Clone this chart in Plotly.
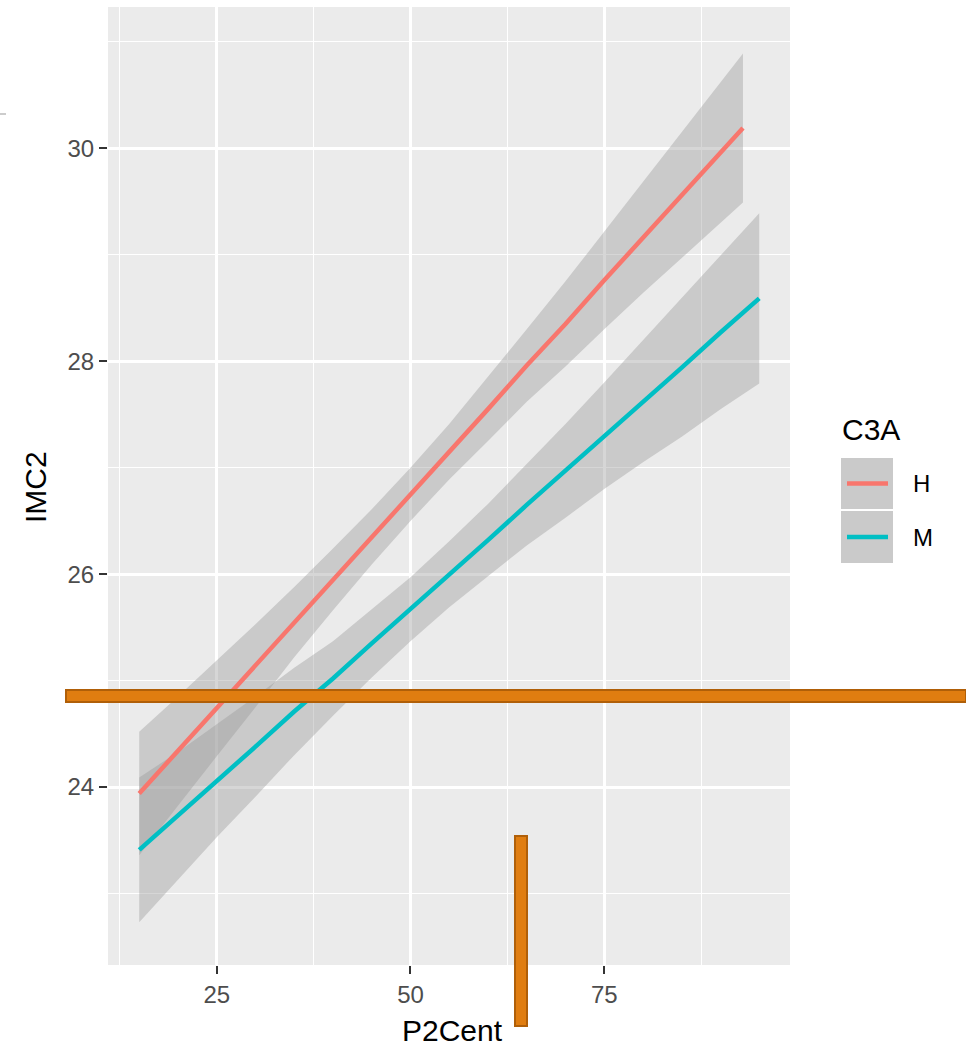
import plotly.graph_objects as go

# ---- data ----
h_x = [15, 20, 25, 30, 35, 40, 45, 50, 55, 60, 65, 70, 75, 80, 85, 90, 92.9]
h_fit = [23.94, 24.34, 24.74, 25.14, 25.55, 25.95, 26.35, 26.75, 27.15, 27.55,
         27.96, 28.35, 28.76, 29.16, 29.56, 29.96, 30.19]
h_lo = [23.36, 23.83, 24.29, 24.75, 25.22, 25.66, 26.09, 26.50, 26.89, 27.25,
        27.62, 27.95, 28.30, 28.64, 28.97, 29.30, 29.49]
h_hi = [24.52, 24.85, 25.19, 25.53, 25.88, 26.24, 26.61, 27.00, 27.41, 27.85,
        28.30, 28.75, 29.22, 29.68, 30.15, 30.62, 30.89]

m_x = [15, 20, 25, 30, 35, 40, 45, 50, 55, 60, 65, 70, 75, 80, 85, 90, 95]
m_fit = [23.41, 23.73, 24.06, 24.38, 24.71, 25.02, 25.35, 25.67, 26.00, 26.32,
         26.65, 26.97, 27.30, 27.62, 27.94, 28.27, 28.59]
m_lo = [22.73, 23.13, 23.53, 23.91, 24.30, 24.67, 25.03, 25.37, 25.69, 25.98,
        26.27, 26.53, 26.80, 27.05, 27.29, 27.55, 27.79]
m_hi = [24.09, 24.33, 24.59, 24.85, 25.12, 25.37, 25.67, 25.97, 26.31, 26.66,
        27.03, 27.41, 27.80, 28.19, 28.59, 28.99, 29.39]

groups = ["H", "M"]
colors = {"H": "#F8766D", "M": "#00BFC4"}
x_ticks = [25, 50, 75]
y_ticks = [24, 26, 28, 30]
x_title = "P2Cent"
y_title = "IMC2"
legend_title = "C3A"

# ---- geometry ----
W, H = 966, 1052
L, R, T, B = 108, 790, 7, 965

def px(x):
    return (x - L) / (R - L)

def py(y):
    return (B - y) / (B - T)

FONT = "Liberation Sans, Arial, Helvetica, sans-serif"
RIBBON = "rgba(153,153,153,0.4)"

fig = go.Figure()
series = {"H": (h_x, h_fit, h_lo, h_hi), "M": (m_x, m_fit, m_lo, m_hi)}
for g in groups:
    xs, fit, lo, hi = series[g]
    fig.add_trace(go.Scatter(
        x=list(xs) + list(xs)[::-1], y=list(lo) + list(hi)[::-1],
        fill="toself", fillcolor=RIBBON, line=dict(width=0),
        mode="lines", hoverinfo="skip", showlegend=False))
for g in groups:
    xs, fit, lo, hi = series[g]
    fig.add_trace(go.Scatter(x=xs, y=fit, mode="lines",
                             line=dict(color=colors[g], width=4.5),
                             name=g, showlegend=False))

axis_common = dict(
    showgrid=True, gridcolor="white", gridwidth=2.6,
    zeroline=False, showline=False,
    ticks="outside", ticklen=8, tickwidth=2.2, tickcolor="#333333",
    tickfont=dict(family=FONT, size=24, color="#4D4D4D"),
)
fig.update_layout(
    width=W, height=H,
    margin=dict(l=L, r=W - R, t=T, b=H - B, pad=0),
    paper_bgcolor="white", plot_bgcolor="#EBEBEB",
    showlegend=False,
    xaxis=dict(range=[10.97, 98.97], tickvals=x_ticks, ticktext=[str(v) for v in x_ticks],
               minor=dict(tickvals=[12.5, 37.5, 62.5, 87.5], showgrid=True,
                          gridcolor="white", gridwidth=1.3, ticks=""),
               **axis_common),
    yaxis=dict(range=[22.329, 31.327], tickvals=y_ticks, ticktext=[str(v) for v in y_ticks],
               minor=dict(tickvals=[23, 25, 27, 29, 31], showgrid=True,
                          gridcolor="white", gridwidth=1.3, ticks=""),
               **axis_common),
)

annotations = [
    dict(text=x_title, x=px(452), y=py(1030), xref="paper", yref="paper",
         showarrow=False, font=dict(family=FONT, size=30, color="black"),
         xanchor="center", yanchor="middle"),
    dict(text=y_title, x=px(35), y=py(487), xref="paper", yref="paper",
         showarrow=False, textangle=-90, font=dict(family=FONT, size=30, color="black"),
         xanchor="center", yanchor="middle"),
    dict(text=legend_title, x=px(840), y=py(429), xref="paper", yref="paper",
         showarrow=False, font=dict(family=FONT, size=30, color="black"),
         xanchor="left", yanchor="middle"),
]
shapes = []
key_rows = [(458, 509), (511, 563)]
for g, (y0, y1) in zip(groups, key_rows):
    shapes.append(dict(type="rect", xref="paper", yref="paper",
                       x0=px(841), x1=px(893), y0=py(y0), y1=py(y1),
                       fillcolor="#EBEBEB", line=dict(width=0), layer="above"))
    shapes.append(dict(type="rect", xref="paper", yref="paper",
                       x0=px(841), x1=px(893), y0=py(y0), y1=py(y1),
                       fillcolor=RIBBON, line=dict(width=0), layer="above"))
    ym = (y0 + y1) / 2
    shapes.append(dict(type="line", xref="paper", yref="paper",
                       x0=px(847), x1=px(888), y0=py(ym), y1=py(ym),
                       line=dict(color=colors[g], width=4.5), layer="above"))
    annotations.append(dict(text=g, x=px(911), y=py(ym), xref="paper", yref="paper",
                            showarrow=False, font=dict(family=FONT, size=24, color="black"),
                            xanchor="left", yanchor="middle"))

# overlay markers visible on the reference
ORANGE, ORANGE_EDGE = "#E07D10", "#B05F08"
shapes.append(dict(type="rect", xref="paper", yref="paper",
                   x0=px(66), x1=px(966), y0=py(702), y1=py(690),
                   fillcolor=ORANGE, line=dict(color=ORANGE_EDGE, width=2), layer="above"))
shapes.append(dict(type="rect", xref="paper", yref="paper",
                   x0=px(515), x1=px(527), y0=py(1026), y1=py(836),
                   fillcolor=ORANGE, line=dict(color=ORANGE_EDGE, width=2), layer="above"))
shapes.append(dict(type="line", xref="paper", yref="paper",
                   x0=px(0), x1=px(6), y0=py(114), y1=py(114),
                   line=dict(color="#999999", width=1), layer="above"))

fig.update_layout(annotations=annotations, shapes=shapes)
fig.write_html("out.html")
